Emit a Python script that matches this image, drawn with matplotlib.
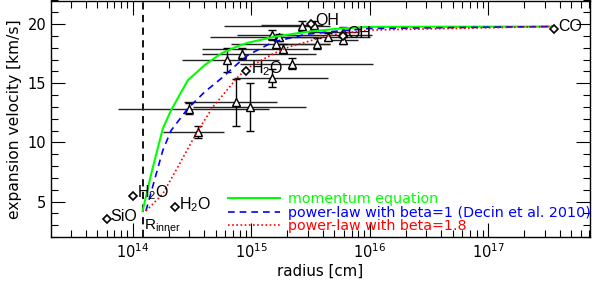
import matplotlib
matplotlib.use('Agg')
import matplotlib.pyplot as plt
from matplotlib.ticker import LogLocator, MultipleLocator, LogFormatterMathtext, NullFormatter

plt.rcParams['font.family'] = ['DejaVu Sans']
plt.rcParams['mathtext.default'] = 'regular'

# ---- model curves ----
mom_r = [1.21e14, 1.43e14, 1.79e14, 2.10e14, 2.91e14, 4.03e14, 5.56e14, 7.69e14, 9.33e14, 1.53e15, 2.92e15, 5.58e15, 1.0e16, 3.5e17]
mom_v = [4.2, 7.35, 11.16, 12.71, 15.25, 16.53, 17.52, 18.14, 18.42, 18.92, 19.35, 19.63, 19.77, 19.8]

b1_r = [1.29e14, 1.52e14, 1.79e14, 2.10e14, 2.91e14, 4.03e14, 5.56e14, 7.69e14, 9.33e14, 1.53e15, 2.92e15, 5.58e15, 1.0e16, 3.5e17]
b1_v = [4.2, 6.78, 9.32, 11.0, 12.86, 14.26, 15.4, 16.67, 17.37, 18.5, 19.15, 19.43, 19.63, 19.8]

b18_r = [1.29e14, 1.79e14, 2.48e14, 3.42e14, 4.73e14, 6.55e14, 7.69e14, 9.33e14, 1.53e15, 2.11e15, 2.92e15, 4.04e15, 5.58e15, 1.0e16, 3.5e17]
b18_v = [4.2, 5.65, 8.19, 10.74, 12.99, 14.69, 15.53, 16.3, 17.5, 18.1, 18.5, 18.92, 19.2, 19.5, 19.8]

legend_labels = ['momentum equation', 'power-law with beta=1 (Decin et al. 2010)', 'power-law with beta=1.8']

# ---- observations with error bars (triangles) ----
tri_r    = [2.66e15, 1.48e15, 1.72e15, 1.63e15, 1.85e15, 8.4e14, 6.25e14, 2.2e15, 1.48e15, 2.98e14, 7.4e14, 9.7e14, 3.56e14, 3.4e15, 4.45e15, 3.55e15, 5.96e15, 5.96e15]
tri_v    = [19.85, 19.07, 18.9, 18.36, 17.94, 17.5, 16.95, 16.67, 15.45, 12.86, 13.4, 13.0, 10.9, 19.9, 18.92, 18.36, 19.35, 18.64]
tri_verr = [0.45, 0.45, 0.3, 0.4, 0.4, 0.47, 1.0, 0.5, 0.78, 0.5, 2.0, 2.0, 0.5, 0.4, 0.3, 0.45, 0.45, 0.3]
tri_rlo  = [5.9e14, 7.6e14, 4.5e14, 6.8e14, 3.8e14, 3.8e14, 2.6e14, 8.0e14, 7.1e14, 7.5e13, 2.7e14, 3.2e14, 1.8e14, 1.2e15, 2.0e15, 1.6e15, 3.0e15, 4.5e15]
tri_rhi  = [4.6e15, 1.04e16, 3.9e15, 4.6e15, 3.0e15, 3.5e15, 1.7e15, 1.06e16, 4.4e15, 1.4e15, 1.64e15, 2.9e15, 5.9e14, 4.0e15, 1.0e16, 4.6e15, 8.0e15, 8.0e15]

# ---- molecular line points (diamonds) ----
dia_r = [6.0e13, 1.0e14, 2.26e14, 9.1e14, 3.2e15, 5.9e15, 3.57e17]
dia_v = [3.53, 5.5, 4.52, 16.0, 20.05, 19.0, 19.55]
dia_lab = ['SiO', 'H$_2$O', 'H$_2$O', 'H$_2$O', 'OH', 'OH', 'CO']

r_inner = 1.21e14

W, H = 599, 288
fig = plt.figure(figsize=(W / 100, H / 100), dpi=100)
ax = fig.add_axes([51 / W, 1 - 237 / H, 539 / W, 236.5 / H])

ax.set_xscale('log')
ax.set_xlim(2.04e13, 7.2e17)
ax.set_ylim(2, 22)

# horizontal error bars
xl = [r - lo for r, lo in zip(tri_r, tri_rlo)]
xh = [hi - r for r, hi in zip(tri_r, tri_rhi)]
ax.errorbar(tri_r, tri_v, xerr=[xl, xh], fmt='none', ecolor='#222222', elinewidth=1.0, capsize=0, zorder=2)
# vertical error bars with caps
ax.errorbar(tri_r, tri_v, yerr=tri_verr, fmt='^', ms=6, mfc='white', mec='black', mew=1.0,
            ecolor='black', elinewidth=1.0, capsize=3, capthick=1.0, zorder=3)

# model curves
ax.plot(mom_r, mom_v, color='#00ff00', lw=1.5, label=legend_labels[0], zorder=4)
ax.plot(b1_r, b1_v, color='#0000ff', lw=1.2, ls=(0, (4, 3)), label=legend_labels[1], zorder=4)
ax.plot(b18_r, b18_v, color='#ff0000', lw=1.2, ls=(0, (1, 1.5)), label=legend_labels[2], zorder=4)

# diamonds
ax.plot(dia_r, dia_v, ls='none', marker='D', ms=4, mfc='white', mec='black', mew=1.2, zorder=5)
for r, v, lab in zip(dia_r, dia_v, dia_lab):
    ax.annotate(lab, (r, v), xytext=(3, 2), textcoords='offset points', fontsize=11.5,
                family=['Liberation Sans Narrow', 'Liberation Sans', 'DejaVu Sans'],
                ha='left', va='center', zorder=6)

# inner radius
ax.axvline(r_inner, color='black', lw=1.3, ls=(0, (4, 3)), zorder=1)
ax.annotate('R$_{inner}$', (r_inner, 2), xytext=(1, 5), textcoords='offset points',
            fontsize=11, ha='left', va='baseline',
            family=['Liberation Sans Narrow', 'Liberation Sans', 'DejaVu Sans'])

ax.legend(loc='upper left', bbox_to_anchor=(0.3284, 0.19), frameon=False, fontsize=10.3,
          handlelength=3.65, handletextpad=0.56, labelspacing=-0.02, borderpad=0, borderaxespad=0,
          labelcolor='linecolor')

ax.xaxis.set_major_locator(LogLocator(base=10, numticks=20))
ax.xaxis.set_minor_locator(LogLocator(base=10, subs=range(2, 10), numticks=20))
ax.xaxis.set_major_formatter(LogFormatterMathtext())
ax.xaxis.set_minor_formatter(NullFormatter())
ax.yaxis.set_major_locator(MultipleLocator(5))
ax.yaxis.set_minor_locator(MultipleLocator(1))
ax.tick_params(which='both', direction='in', top=True, right=True, labelsize=10.5, width=0.8)
ax.tick_params(which='major', length=10)
ax.tick_params(which='minor', length=5)
for s in ax.spines.values():
    s.set_linewidth(1.0)

ax.set_xlabel('radius [cm]', fontsize=10.8, labelpad=2)
ax.set_ylabel('expansion velocity [km/s]', fontsize=11.2, labelpad=4)

fig.savefig('out.png', dpi=100)
